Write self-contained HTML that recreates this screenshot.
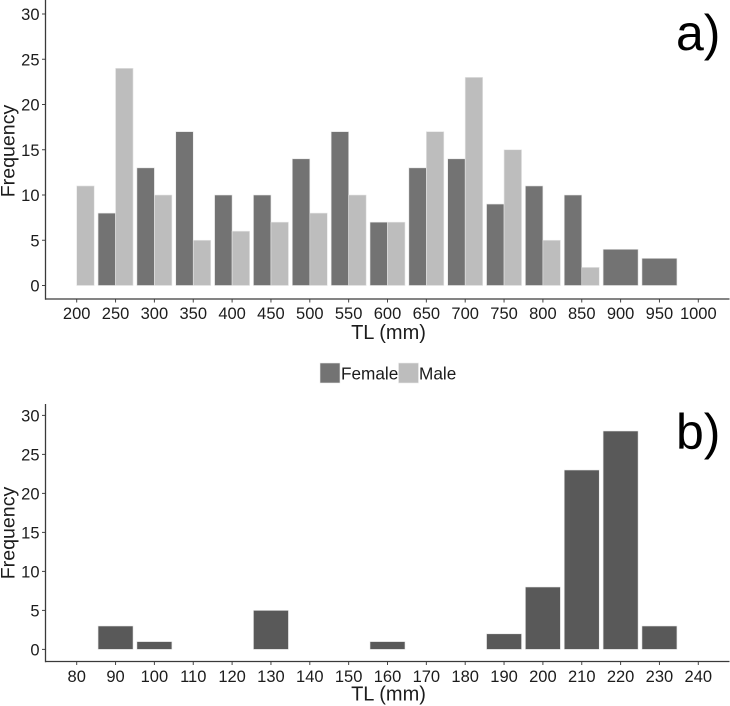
<!DOCTYPE html>
<html>
<head>
<meta charset="utf-8">
<style>
html,body{margin:0;padding:0;background:#fff;}
svg{display:block;font-family:"Liberation Sans",Arial,sans-serif;filter:blur(0.3px);}
text{fill:#1c1c1c;}
</style>
</head>
<body>
<svg id="chart" width="730" height="706" viewBox="0 0 730 706" xmlns="http://www.w3.org/2000/svg">
  <g id="panel-a"></g>
  <g id="panel-b"></g>
  <g id="legend">
    <g>
      <rect x="320" y="363" width="20" height="20" fill="#737373" stroke="#ececec" stroke-width="0.6"/>
      <text x="341" y="379.5" font-size="17.2">Female</text>
    </g>
    <g>
      <rect x="398.5" y="363" width="20" height="20" fill="#bdbdbd" stroke="#ececec" stroke-width="0.6"/>
      <text x="419" y="379.5" font-size="17.2">Male</text>
    </g>
  </g>
  <text x="676" y="50" font-size="50" style="fill:#000">a)</text>
  <text x="676" y="449" font-size="50" style="fill:#000">b)</text>
</svg>
<script>
// Panel a data
const aCategories = [200,250,300,350,400,450,500,550,600,650,700,750,800,850,900,950];
const aFemale = [0,8,13,17,10,10,14,17,7,13,14,9,11,10,4,3];
const aMale = [11,24,10,5,6,7,8,10,7,17,23,15,5,2,0,0];
const aXTicks = [200,250,300,350,400,450,500,550,600,650,700,750,800,850,900,950,1000];
const aYTicks = [0,5,10,15,20,25,30];

// Panel b data
const bCategories = [90,100,130,160,190,200,210,220,230];
const bCounts = [3,1,5,1,2,8,23,28,3];
const bXTicks = [80,90,100,110,120,130,140,150,160,170,180,190,200,210,220,230,240];
const bYTicks = [0,5,10,15,20,25,30];

const NS = 'http://www.w3.org/2000/svg';
function mk(parent, tag, attrs, txt) {
  const el = document.createElementNS(NS, tag);
  for (const k in attrs) el.setAttribute(k, attrs[k]);
  if (txt !== undefined) el.textContent = txt;
  parent.appendChild(el);
  return el;
}

function drawAxes(g, xTicks, yTicks, xScale, yScale, axisLeft, axisTop, axisBottom, titleCenterY, tickBaseline, titleBaseline) {
  yTicks.forEach(function (v) {
    const tick = mk(g, 'line', {x1: axisLeft - 3.5, x2: axisLeft, y1: yScale(v), y2: yScale(v), stroke: '#444', 'stroke-width': 1});
    
    
    const lab = mk(g, 'text', {x: axisLeft - 6, y: yScale(v) + 6, 'font-size': 16.5, 'text-anchor': 'end'}, String(v));
    
    
  });
  xTicks.forEach(function (v) {
    const tick = mk(g, 'line', {x1: xScale(v), x2: xScale(v), y1: axisBottom, y2: axisBottom + 3.5, stroke: '#444', 'stroke-width': 1});
    
    
    const lab = mk(g, 'text', {x: xScale(v), y: tickBaseline, 'font-size': 16.5, 'text-anchor': 'middle'}, String(v));
    
    
  });
  const yAxis = mk(g, 'line', {x1: axisLeft, x2: axisLeft, y1: axisTop, y2: axisBottom + 0.7, stroke: '#3a3a3a', 'stroke-width': 1.3});
  
  
  const xAxis = mk(g, 'line', {x1: axisLeft, x2: 729.5, y1: axisBottom, y2: axisBottom, stroke: '#3a3a3a', 'stroke-width': 1.3});
  
  
  const xTitle = mk(g, 'text', {x: 388.5, y: titleBaseline, 'font-size': 20, 'text-anchor': 'middle'}, 'TL (mm)');
  
  
  const yTitle = mk(g, 'text', {transform: 'translate(14.5 ' + titleCenterY + ') rotate(-90)', 'font-size': 19.6, 'text-anchor': 'middle'}, 'Frequency');
  
  
}

function bar(g, x, w, y0, y1, fill) {
  return mk(g, 'rect', {x: x, y: y1, width: w, height: y0 - y1, fill: fill, stroke: '#e6e6e6', 'stroke-width': 0.6});
}

// Panel a
(function () {
  const g = document.getElementById('panel-a');
  const step = 38.85 / 50;
  const x = function (v) { return 76.7 + (v - 200) * step; };
  const y = function (v) { return 285.5 - v * 9.05; };
  const full = 35;
  aCategories.forEach(function (c, i) {
    const f = aFemale[i], m = aMale[i];
    if (f > 0 && m > 0) {
      const r1 = bar(g, x(c) - full / 2, full / 2, y(0), y(f), '#737373');
      
      
      const r2 = bar(g, x(c), full / 2, y(0), y(m), '#bdbdbd');
      
      
    } else if (f > 0) {
      const r3 = bar(g, x(c) - full / 2, full, y(0), y(f), '#737373');
      
      
    } else if (m > 0) {
      const r4 = bar(g, x(c), full / 2, y(0), y(m), '#bdbdbd');
      
      
    }
  });
  drawAxes(g, aXTicks, aYTicks, x, y, 45.5, 0, 299, 151, 319, 339);
})();

// Panel b
(function () {
  const g = document.getElementById('panel-b');
  const step = 3.885;
  const x = function (v) { return 76.7 + (v - 80) * step; };
  const y = function (v) { return 649.4 - v * 7.8; };
  const full = 35;
  bCategories.forEach(function (c, i) {
    const r = bar(g, x(c) - full / 2, full, y(0), y(bCounts[i]), '#595959');
    
    
  });
  drawAxes(g, bXTicks, bYTicks, x, y, 45.5, 404, 661.5, 533, 681.8, 700.5);
})();
</script>
</body>
</html>
